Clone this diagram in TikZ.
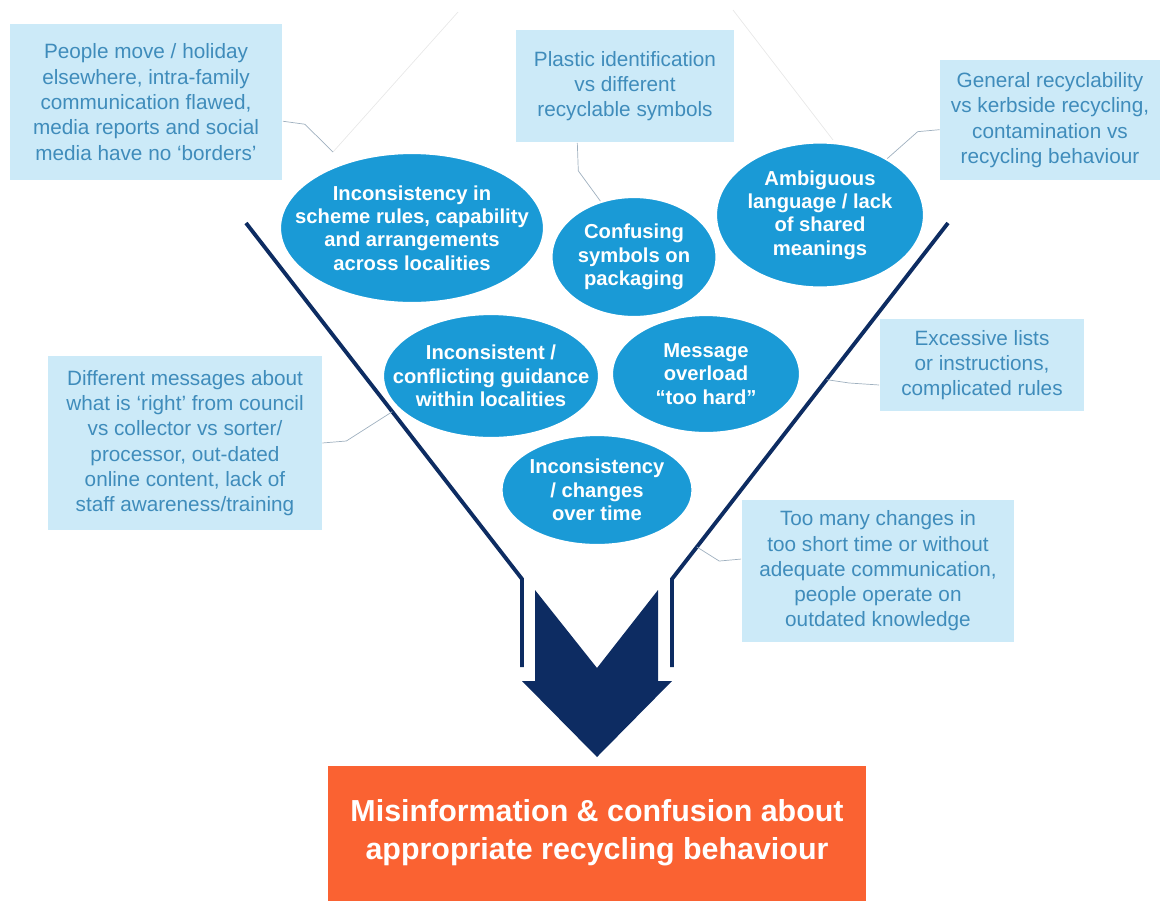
\documentclass[tikz,border=0pt]{standalone}
\usepackage{fontspec}
\setmainfont{Liberation Sans}
\usetikzlibrary{shapes.geometric,calc}
\definecolor{cNote}{HTML}{CCEAF8}
\definecolor{cNoteTxt}{HTML}{3F8CBB}
\definecolor{cBlob}{HTML}{1A9AD6}
\definecolor{cNavy}{HTML}{0D2C62}
\definecolor{cOut}{HTML}{FA6232}
\definecolor{cLink}{HTML}{9FB0BF}

\begin{document}
\begin{tikzpicture}[x=0.02cm, y=-0.02cm,
  note/.style={fill=cNote, text=cNoteTxt, align=center, font=\fontsize{11.8}{14.4}\selectfont, inner sep=2pt},
  blob/.style={ellipse, fill=cBlob, draw=white, line width=1.2pt, inner sep=0pt},
  blobtxt/.style={text=white, align=center, font=\fontsize{11.5}{13.3}\selectfont\bfseries},
  link/.style={draw=cLink, line width=0.4pt},
  wall/.style={draw=cNavy, line width=2.2pt},
  ghost/.style={draw=black!9, line width=0.4pt}]
\useasboundingbox (0,0) rectangle (1169,900);

% funnel outline
\coordinate (lt) at (246,223); \coordinate (lb) at (522,579); \coordinate (lbe) at (522,667);
\coordinate (rt) at (948,223); \coordinate (rb) at (672,579); \coordinate (rbe) at (672,667);
\coordinate (gl) at (333,152); \coordinate (glt) at (458,12);
\coordinate (gr) at (833,140); \coordinate (grt) at (733,10);
\coordinate (w4) at ($(lt)!0.53!(lb)$);
\coordinate (w5) at ($(rt)!0.44!(rb)$);
\coordinate (w6) at ($(rt)!0.91!(rb)$);
\draw[ghost] (gl) -- (glt);
\draw[ghost] (gr) -- (grt);
\draw[wall] (lt) -- (lb) -- (lbe);
\draw[wall] (rt) -- (rb) -- (rbe);

% causes inside the funnel
\node[blob, minimum width=5.28cm, minimum height=3.0cm, label={[blobtxt]center:{Inconsistency in\\scheme rules, capability\\and arrangements\\across localities}}] (e1) at (412,228) {};
\node[blob, minimum width=3.3cm, minimum height=2.4cm, label={[blobtxt]center:{Confusing\\symbols on\\packaging}}] (e2) at (634,257) {};
\node[blob, minimum width=4.16cm, minimum height=2.9cm, label={[blobtxt]center:{Ambiguous\\language / lack\\of shared\\meanings}}] (e3) at (820,215) {};
\node[blob, minimum width=4.32cm, minimum height=2.48cm, label={[blobtxt]center:{Inconsistent /\\conflicting guidance\\within localities}}] (e4) at (491,376) {};
\node[blob, minimum width=3.76cm, minimum height=2.36cm, label={[blobtxt]center:{Message\\overload\\``too hard''}}] (e5) at (706,374) {};
\node[blob, minimum width=3.82cm, minimum height=2.2cm, label={[blobtxt]center:{Inconsistency\\/ changes\\over time}}] (e6) at (597,490) {};

% explanations
\node[note, minimum width=5.46cm, minimum height=3.12cm] (tl) at (146,102) {People move / holiday\\elsewhere, intra-family\\communication flawed,\\media reports and social\\media have no `borders'};
\node[note, minimum width=4.38cm, minimum height=2.26cm] (tc) at (625,86) {Plastic identification\\vs different\\recyclable symbols};
\node[note, minimum width=4.4cm, minimum height=2.4cm] (tr) at (1050,120) {General recyclability\\vs kerbside recycling,\\contamination vs\\recycling behaviour};
\node[note, minimum width=5.48cm, minimum height=3.5cm] (ml) at (185,443) {Different messages about\\what is `right' from council\\vs collector vs sorter/\\processor, out-dated\\online content, lack of\\staff awareness/training};
\node[note, minimum width=4.1cm, minimum height=1.84cm] (mr) at (982,365) {Excessive lists\\or instructions,\\complicated rules};
\node[note, minimum width=5.46cm, minimum height=2.84cm] (br) at (878,571) {Too many changes in\\too short time or without\\adequate communication,\\people operate on\\outdated knowledge};

\draw[link] (tl.-8) -- ++(22,3) -- (gl);
\draw[link] (tc.-130) -- ++(1,28) -- (e2.121);
\draw[link] (tr.185) -- ++(-22,2) -- (e3.40);
\draw[link] (ml.east) -- ++(24,-2) -- (w4);
\draw[link] (mr.191) -- ++(-30,-2) -- (w5);
\draw[link] (br.175) -- ++(-22,2) -- (w6);

% outlet arrow and result
\fill[cNavy] (535,590) -- (597,668) -- (658,590) -- (658,681) -- (672,681) -- (597,757)
  -- (522,681) -- (535,681) -- cycle;
\node[fill=cOut, text=white, align=center, font=\fontsize{17.3}{21.5}\selectfont\bfseries,
  minimum width=10.76cm, minimum height=2.7cm] (res) at (597,833) {Misinformation \& confusion about\\appropriate recycling behaviour};
\end{tikzpicture}
\end{document}
